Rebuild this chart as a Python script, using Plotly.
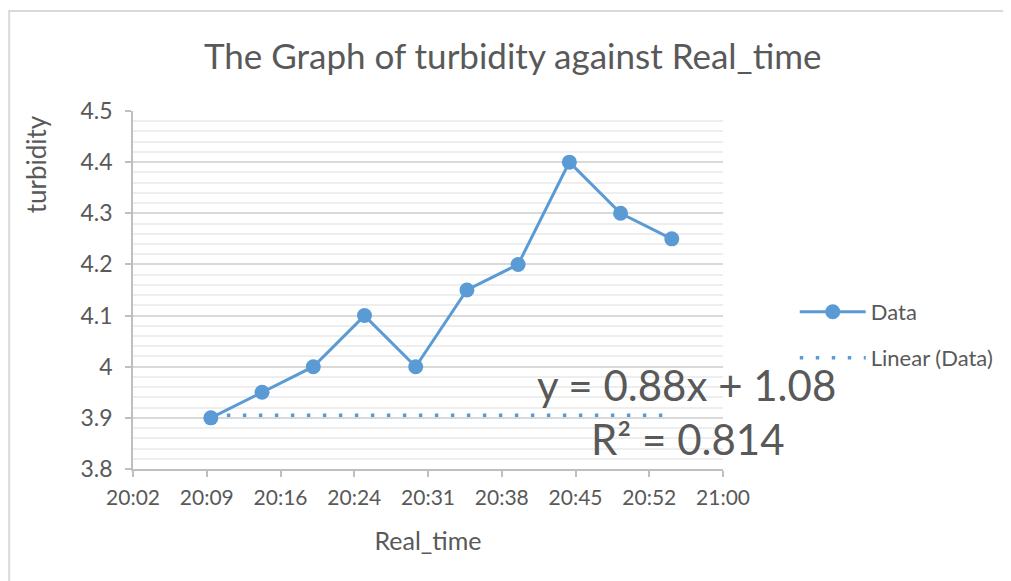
import plotly.graph_objects as go

# ---- data ----
real_time = ["2024-01-01 20:10:00", "2024-01-01 20:15:00", "2024-01-01 20:20:00",
             "2024-01-01 20:25:00", "2024-01-01 20:30:00", "2024-01-01 20:35:00",
             "2024-01-01 20:40:00", "2024-01-01 20:45:00", "2024-01-01 20:50:00",
             "2024-01-01 20:55:00"]
turbidity = [3.9, 3.95, 4.0, 4.1, 4.0, 4.15, 4.2, 4.4, 4.3, 4.25]

trend_x = ["2024-01-01 20:10:00", "2024-01-01 20:55:00"]
trend_y = [3.905, 3.905]

x_tickvals = ["2024-01-01 20:02:24", "2024-01-01 20:09:36", "2024-01-01 20:16:48",
              "2024-01-01 20:24:00", "2024-01-01 20:31:12", "2024-01-01 20:38:24",
              "2024-01-01 20:45:36", "2024-01-01 20:52:48", "2024-01-01 21:00:00"]
x_ticktext = ["20:02", "20:09", "20:16", "20:24", "20:31", "20:38", "20:45", "20:52", "21:00"]
y_tickvals = [3.8, 3.9, 4.0, 4.1, 4.2, 4.3, 4.4, 4.5]
y_ticktext = ["3.8", "3.9", "4", "4.1", "4.2", "4.3", "4.4", "4.5"]

eq_text = "y = 0.88x + 1.08"
r2_text = "R² = 0.814"

BLUE = "#5B9BD5"
TXT = "#595959"
FONT = "Lato, 'Open Sans', sans-serif"

# page offset (body margin) so that screen positions match
OFF = 8
W, H = 1011 - OFF, 581 - OFF
# plot area in screen pixels
SL, SR, ST, SB = 133, 725, 111, 469
L, R, T, B = SL - OFF, SR - OFF, ST - OFF, SB - OFF


def px_x(p):  # screen x -> paper
    return (p - SL) / (SR - SL)


def px_y(p):  # screen y -> paper
    return (SB - p) / (SB - ST)


fig = go.Figure()
fig.add_trace(go.Scatter(
    x=real_time, y=turbidity, mode="lines+markers", name="Data",
    line=dict(color=BLUE, width=3),
    marker=dict(color=BLUE, size=15, symbol="circle"),
    legend="legend", showlegend=True,
))
fig.add_trace(go.Scatter(
    x=trend_x, y=trend_y, mode="lines", name="Linear (Data)",
    line=dict(color=BLUE, width=3.5, dash="3.5px,12.5px"),
    legend="legend2", showlegend=True,
))

fig.update_layout(
    width=W, height=H,
    margin=dict(l=L, r=W - R, t=T, b=H - B, pad=0),
    paper_bgcolor="white", plot_bgcolor="white",
    font=dict(family=FONT, color=TXT, size=21),
    title=dict(text="The Graph of turbidity against Real_time",
               x=px_x(514), xref="paper", xanchor="center",
               y=1 - (57 - OFF) / H, yanchor="middle",
               font=dict(size=35, color=TXT, family=FONT)),
    legend=dict(x=px_x(797), y=px_y(312), xanchor="left", yanchor="middle",
                itemwidth=66,
                bgcolor="rgba(0,0,0,0)", font=dict(size=22, color=TXT)),
    legend2=dict(x=px_x(797), y=px_y(358), xanchor="left", yanchor="middle",
                 itemwidth=66,
                 bgcolor="rgba(0,0,0,0)", font=dict(size=22, color=TXT)),
    xaxis=dict(
        type="date",
        range=[x_tickvals[0], x_tickvals[-1]],
        tickmode="array", tickvals=x_tickvals, ticktext=x_ticktext,
        showgrid=False, zeroline=False,
        showline=True, linecolor="#BFBFBF", linewidth=1.5,
        ticks="outside", ticklen=6, tickcolor="#BFBFBF", tickwidth=1.5,
        ticklabelstandoff=3,
        tickfont=dict(size=21, color=TXT),
        title=dict(text="Real_time", font=dict(size=25, color=TXT), standoff=25),
    ),
    yaxis=dict(
        range=[3.8, 4.5],
        tickmode="array", tickvals=y_tickvals, ticktext=y_ticktext,
        showgrid=True, gridcolor="#D9D9D9", gridwidth=1.5,
        zeroline=False,
        showline=True, linecolor="#BFBFBF", linewidth=1.5,
        ticks="outside", ticklen=6, tickcolor="#BFBFBF", tickwidth=1.5,
        ticklabelstandoff=8,
        tickfont=dict(size=23, color=TXT),
        minor=dict(dtick=0.02, tick0=3.8, showgrid=True, gridcolor="#EEEEEE", gridwidth=1.5,
                   ticks=""),
    ),
    annotations=[
        dict(text="turbidity", x=px_x(36), y=px_y(164), xref="paper", yref="paper",
             textangle=-90, showarrow=False, font=dict(size=26, color=TXT, family=FONT),
             xanchor="center", yanchor="middle"),
        dict(text=eq_text, x=px_x(688), y=px_y(385), xref="paper", yref="paper",
             showarrow=False, font=dict(size=42, color=TXT, family=FONT),
             xanchor="center", yanchor="middle"),
        dict(text=r2_text, x=px_x(690), y=px_y(439), xref="paper", yref="paper",
             showarrow=False, font=dict(size=42, color=TXT, family=FONT),
             xanchor="center", yanchor="middle"),
    ],
    shapes=[
        dict(type="line", xref="paper", yref="paper",
             x0=px_x(8), x1=px_x(1011), y0=px_y(11), y1=px_y(11),
             line=dict(color="#D9D9D9", width=2)),
        dict(type="line", xref="paper", yref="paper",
             x0=px_x(8.8), x1=px_x(8.8), y0=px_y(11), y1=px_y(581),
             line=dict(color="#D9D9D9", width=2)),
    ],
)

fig.write_html("out.html")
